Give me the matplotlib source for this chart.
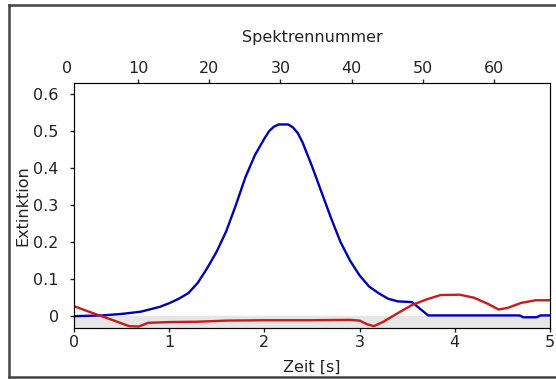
import matplotlib.pyplot as plt
from matplotlib.lines import Line2D

plt.rcParams['font.family'] = 'DejaVu Sans'

# time axis [s] and extinction traces
t_blue = [0.0, 0.3, 0.5, 0.7, 0.9, 1.0, 1.1, 1.2, 1.3, 1.4, 1.5, 1.6, 1.7,
          1.8, 1.9, 2.0, 2.05, 2.1, 2.15, 2.25, 2.3, 2.35, 2.4, 2.5, 2.6, 2.7,
          2.8, 2.9, 3.0, 3.1, 3.2, 3.3, 3.4, 3.55, 3.72, 4.0, 4.68, 4.72,
          4.86, 4.9, 5.0]
ext_blue = [0.0, 0.002, 0.006, 0.012, 0.025, 0.035, 0.047, 0.062, 0.09, 0.13,
            0.175, 0.23, 0.30, 0.375, 0.435, 0.48, 0.50, 0.512, 0.518, 0.518,
            0.51, 0.495, 0.47, 0.405, 0.335, 0.265, 0.2, 0.15, 0.11, 0.08,
            0.062, 0.047, 0.04, 0.038, 0.002, 0.002, 0.002, -0.003, -0.003,
            0.002, 0.002]

t_red = [0.0, 0.2, 0.4, 0.58, 0.68, 0.78, 1.0, 1.3, 1.6, 2.0, 2.5, 2.9, 3.0,
         3.08, 3.15, 3.25, 3.4, 3.55, 3.7, 3.85, 4.05, 4.2, 4.35, 4.46, 4.55,
         4.7, 4.85, 5.0]
ext_red = [0.027, 0.008, -0.01, -0.027, -0.028, -0.018, -0.016, -0.015,
           -0.012, -0.011, -0.011, -0.010, -0.012, -0.022, -0.027, -0.015,
           0.008, 0.03, 0.045, 0.057, 0.058, 0.05, 0.033, 0.018, 0.022,
           0.036, 0.043, 0.043]

# spectrum number vs. time
spec_per_s = 13.37
spec_offset = 1.01

fs = 11.5
ink = '#222222'

fig = plt.figure(figsize=(5.56, 3.79), dpi=100)
ax = fig.add_axes([74 / 556, 1 - 328 / 379, 476 / 556, 245 / 379])

ymin, ymax = -0.032, 0.63
ax.axhspan(ymin, 0, color='#e6e6e6', zorder=0)
ax.plot(t_blue, ext_blue, color='#0000b4', lw=1.7)
ax.plot(t_red, ext_red, color='#d01818', lw=1.7)

ax.set_xlim(0, 5)
ax.set_ylim(ymin, ymax)
ax.set_xticks([0, 1, 2, 3, 4, 5])
ax.set_yticks([0, 0.1, 0.2, 0.3, 0.4, 0.5, 0.6])
ax.set_yticklabels(['0', '0.1', '0.2', '0.3', '0.4', '0.5', '0.6'])
ax.tick_params(length=3, width=1, labelsize=fs, colors=ink, pad=2)
ax.tick_params(axis='y', pad=8)
ax.set_xlabel('Zeit [s]', fontsize=fs, labelpad=7, color=ink)
ax.set_ylabel('Extinktion', fontsize=fs, labelpad=2, color=ink)
for s in ax.spines.values():
    s.set_color('#333333')

# secondary axis on top: spectrum number
top = ax.twiny()
top.set_xlim(spec_offset, spec_offset + 5 * spec_per_s)
top.set_xticks([10, 20, 30, 40, 50, 60])
top.tick_params(length=3, width=1, labelsize=fs, colors=ink, pad=2)
top.annotate('0', xy=(0, 1.0), xycoords=top.get_xaxis_transform(),
             xytext=(0, 5), textcoords='offset points', ha='center',
             va='bottom', fontsize=fs, color=ink, annotation_clip=False)
top.set_xlabel('Spektrennummer', fontsize=fs, labelpad=14, color=ink)

# outer frame, open to the right
x0, y0, y1 = 8.5 / 556, 1 - 377 / 379, 1 - 4.5 / 379
for xs, ys in [([x0, x0], [y0, y1]), ([x0, 1.0], [y1, y1]),
               ([x0, 1.0], [y0, y0])]:
    fig.add_artist(Line2D(xs, ys, transform=fig.transFigure,
                          color='#444444', lw=1.8))

fig.savefig('out.png', dpi=100)
